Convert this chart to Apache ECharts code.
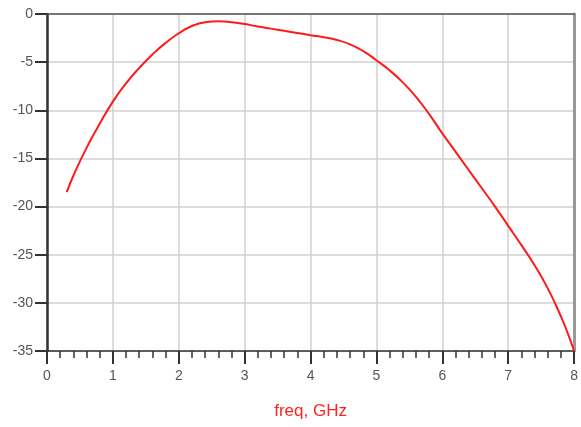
<!DOCTYPE html>
<html>
<head>
<meta charset="utf-8">
<script src="https://cdn.jsdelivr.net/npm/echarts@6/dist/echarts.min.js"></script>
<style>
  html, body { margin: 0; padding: 0; background: #fff; }
  #chart { width: 581px; height: 427px; }
</style>
</head>
<body>
<div id="chart"></div>
<script>
// frequency (GHz) and response (dB)
const freq = [0.3, 0.4, 0.6, 0.8, 1.0, 1.2, 1.4, 1.6, 1.8, 2.0, 2.2, 2.4, 2.6, 2.8,
  3.0, 3.2, 3.4, 3.6, 3.8, 4.0, 4.2, 4.4, 4.6, 4.8, 5.0, 5.2, 5.4, 5.6, 5.8, 6.0, 6.2, 6.4,
  6.6, 6.8, 7.0, 7.2, 7.4, 7.6, 7.8, 7.9, 8.0];
const gain = [-18.5, -16.8, -13.9, -11.4, -9.1, -7.2, -5.6, -4.2, -3.0, -2.0,
  -1.25, -0.85, -0.75, -0.85, -1.05, -1.3, -1.52, -1.75, -1.97, -2.2, -2.42, -2.7, -3.15, -3.85,
  -4.8, -5.85, -7.1, -8.6, -10.4, -12.4, -14.3, -16.2, -18.1, -20.0, -22.0, -24.0, -26.1,
  -28.5, -31.4, -33.1, -35.0];
const xTicks = [0, 1, 2, 3, 4, 5, 6, 7, 8];
const yTicks = [-35, -30, -25, -20, -15, -10, -5, 0];

const chart = echarts.init(document.getElementById('chart'));

const labelStyle = {
  color: '#555',
  fontFamily: 'Liberation Sans, Arial, sans-serif',
  fontSize: 14
};

chart.setOption({
  animation: false,
  grid: { left: 47, right: 5, top: 14, bottom: 76 },
  xAxis: [
    {
      type: 'value',
      min: xTicks[0],
      max: xTicks[xTicks.length - 1],
      interval: 1,
      name: 'freq, GHz',
      nameLocation: 'middle',
      nameGap: 52,
      nameTextStyle: { color: '#ff2020', fontFamily: 'Liberation Sans, Arial, sans-serif', fontSize: 17 },
      axisLine: { onZero: false, lineStyle: { color: '#333', width: 1.5 } },
      axisTick: { length: 13, lineStyle: { color: '#333', width: 2 } },
      minorTick: { show: true, splitNumber: 5, length: 7, lineStyle: { color: '#333', width: 1.5 } },
      axisLabel: Object.assign({ margin: 18 }, labelStyle),
      splitLine: { show: true, lineStyle: { color: '#d0d0d0', width: 1.5 } }
    },
    {
      type: 'value',
      position: 'top',
      min: 0,
      max: 8,
      axisLine: { show: true, onZero: false, lineStyle: { color: '#555', width: 1.5 } },
      axisTick: { show: false },
      axisLabel: { show: false },
      splitLine: { show: false }
    }
  ],
  yAxis: [
    {
      type: 'value',
      min: yTicks[0],
      max: yTicks[yTicks.length - 1],
      interval: 5,
      axisLine: { show: true, onZero: false, lineStyle: { color: '#333', width: 2.5 } },
      axisTick: { show: true, length: 12, lineStyle: { color: '#333', width: 2 } },
      axisLabel: Object.assign({ margin: 14 }, labelStyle),
      splitLine: { show: true, lineStyle: { color: '#d0d0d0', width: 1.5 } }
    },
    {
      type: 'value',
      position: 'right',
      min: -35,
      max: 0,
      axisLine: { show: true, onZero: false, lineStyle: { color: '#999', width: 3 } },
      axisTick: { show: false },
      axisLabel: { show: false },
      splitLine: { show: false }
    }
  ],
  series: [
    {
      type: 'line',
      data: freq.map((f, i) => [f, gain[i]]),
      smooth: 0.5,
      showSymbol: false,
      lineStyle: { color: '#ff1a1a', width: 2 }
    }
  ]
});
</script>
</body>
</html>
